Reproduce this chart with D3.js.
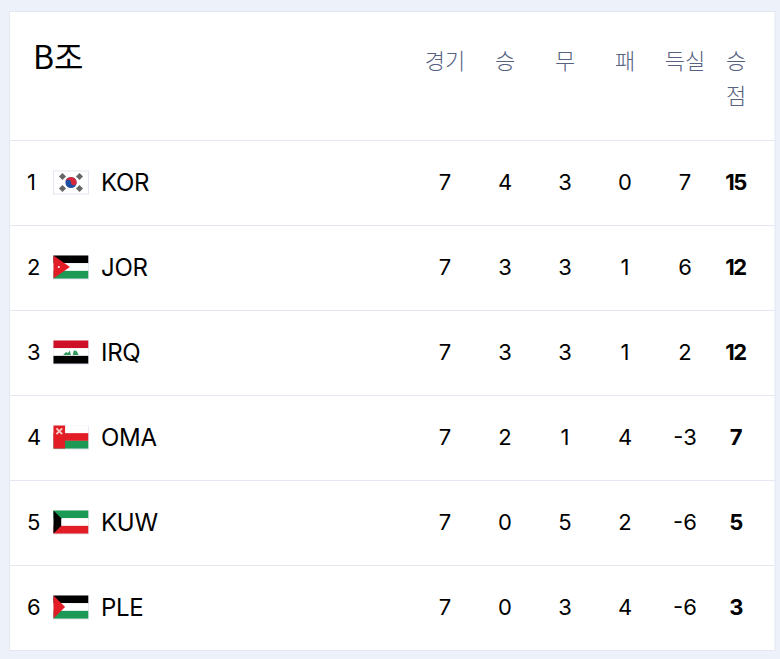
<!DOCTYPE html>
<html><head><meta charset="utf-8">
<script src="https://cdn.jsdelivr.net/npm/d3@7"></script>
<style>
html,body{margin:0;padding:0;background:#edf1fa;overflow:hidden}
svg{display:block}
text{font-family:Inter,"Noto Sans","Noto Sans CJK KR",sans-serif}
</style></head><body>
<script>
const groupTitle = "B조";
const columns = ["경기","승","무","패","득실","승점"];
const ranks = [1,2,3,4,5,6];
const teams = ["KOR","JOR","IRQ","OMA","KUW","PLE"];
const played = [7,7,7,7,7,7];
const wins = [4,3,3,2,0,0];
const draws = [3,3,3,1,5,3];
const losses = [0,1,1,4,2,4];
const goalDiff = [7,6,2,-3,-6,-6];
const points = [15,12,12,7,5,3];

const W=780,H=659;
const svg=d3.select("body").append("svg").attr("width",W).attr("height",H);
svg.append("rect").attr("x",9.5).attr("y",11.5).attr("width",765.5).attr("height",639)
  .attr("fill","#fff").attr("stroke","#e4e8f1");

const y=d3.scaleBand().domain(ranks).range([140.5,650.5]);
const x=d3.scaleOrdinal().domain(columns).range([445,505,565,625,685,736]);
const cyOf=r=>y(r)+y.bandwidth()/2;

svg.append("text").attr("x",33).attr("y",69).attr("font-size",32).attr("fill","#000")
  .style("font-family",'"Noto Sans CJK KR"').text(groupTitle);

const headColor="#55617f";
columns.forEach(c=>{
  const chars = c==="승점" ? [c[0],c[1]] : [c];
  chars.forEach((t,i)=>svg.append("text").attr("x",x(c)).attr("y",69+i*35)
    .attr("text-anchor","middle").attr("font-size",22).attr("fill",headColor)
    .style("font-family",'"Noto Sans CJK KR"').style("font-weight",300).text(t));
});

svg.selectAll("line.sep").data([0,...ranks]).join("line").attr("class","sep")
  .attr("x1",10).attr("x2",775)
  .attr("y1",d=>d===0?140.5:y(d)+y.bandwidth()).attr("y2",d=>d===0?140.5:y(d)+y.bandwidth())
  .attr("stroke","#e4e8f1");

const rows=svg.selectAll("g.row").data(ranks).join("g").attr("class","row")
  .attr("transform",r=>`translate(0,${cyOf(r)})`);
const num=(sel)=>sel.attr("dy",7).attr("font-size",22).attr("fill","#000");

rows.append("text").attr("x",27).call(num).text(r=>r);
rows.append("text").attr("x",101).call(num).attr("font-size",24).attr("dy",7.5).attr("letter-spacing",-0.3).text((r,i)=>teams[i]);

const cols=[played,wins,draws,losses,goalDiff];
cols.forEach((arr,ci)=>{
  rows.append("text").attr("x",x(columns[ci])).attr("text-anchor","middle").call(num)
    .text((r,i)=>arr[i]);
});
rows.append("text").attr("x",x("승점")-0.5).attr("text-anchor","middle").call(num)
  .attr("font-weight",700).attr("letter-spacing",-1.5).text((r,i)=>points[i]);

// flags: 36x24 box at x=53
const RED="#e21d26",GRN="#1c9a55",BLK="#000",WHT="#fff";
function stripes(g,cols,x0=0){
  const h=24/cols.length;
  cols.forEach((c,i)=>g.append("rect").attr("x",x0).attr("y",i*h).attr("width",36-x0).attr("height",h).attr("fill",c));
}
function tri(g,c,w){ g.append("path").attr("d",`M0 0L${w} 12L0 24Z`).attr("fill",c); }
const flag={
 KOR(g){
  g.append("rect").attr("width",36).attr("height",24).attr("fill",WHT);
  [[-1,-1],[1,-1],[-1,1],[1,1]].forEach(([a,b])=>{
    g.append("rect").attr("x",18+a*8.5-2.5).attr("y",12+b*6-2.5).attr("width",5).attr("height",5)
      .attr("fill","#666").attr("transform",`rotate(45 ${18+a*8.5} ${12+b*6})`);
  });
  g.append("circle").attr("cx",18).attr("cy",12).attr("r",5.6).attr("fill","#1f4fa3");
  g.append("path").attr("d","M12.4 12A5.6 5.6 0 0 1 23.6 12A2.8 2.8 0 0 1 18 12A2.8 2.8 0 0 0 12.4 12Z").attr("fill","#d8273a");
  g.append("rect").attr("x",.5).attr("y",.5).attr("width",35).attr("height",23).attr("fill","none").attr("stroke","#e2e6f0");
 },
 JOR(g){
  stripes(g,[BLK,WHT,GRN]);
  tri(g,RED,17);
  g.append("circle").attr("cx",5.5).attr("cy",12).attr("r",1.1).attr("fill","#fff");
 },
 IRQ(g){
  stripes(g,["#ce1126",WHT,BLK]);
  g.append("path").attr("d","M10 15L13 12L15 13L17 10.5L18 15ZM20 15L21 10.5L24 11L26 15Z").attr("fill","#2f9a5a");
 },
 OMA(g){
  stripes(g,[WHT,RED,GRN]);
  g.append("rect").attr("width",12).attr("height",24).attr("fill",RED);
  g.append("path").attr("d","M3 3L9 9M9 3L3 9").attr("stroke","#f6c9c6").attr("stroke-width",2);
 },
 KUW(g){
  stripes(g,[GRN,WHT,RED]);
  g.append("path").attr("d","M0 0L8 8L8 16L0 24Z").attr("fill",BLK);
 },
 PLE(g){
  stripes(g,[BLK,WHT,GRN]);
  tri(g,RED,12);
 }
};
rows.each(function(r,i){
  const g=d3.select(this).append("g").attr("transform","translate(53,-12.5)");
  if(teams[i]==="KOR"){ flag.KOR(g); return; }
  g.append("rect").attr("width",36).attr("height",24).attr("fill","#e2e6f0");
  const inner=g.append("g").attr("transform","translate(.5,0) scale(.965,.96)");
  flag[teams[i]](inner);
});
</script></body></html>
